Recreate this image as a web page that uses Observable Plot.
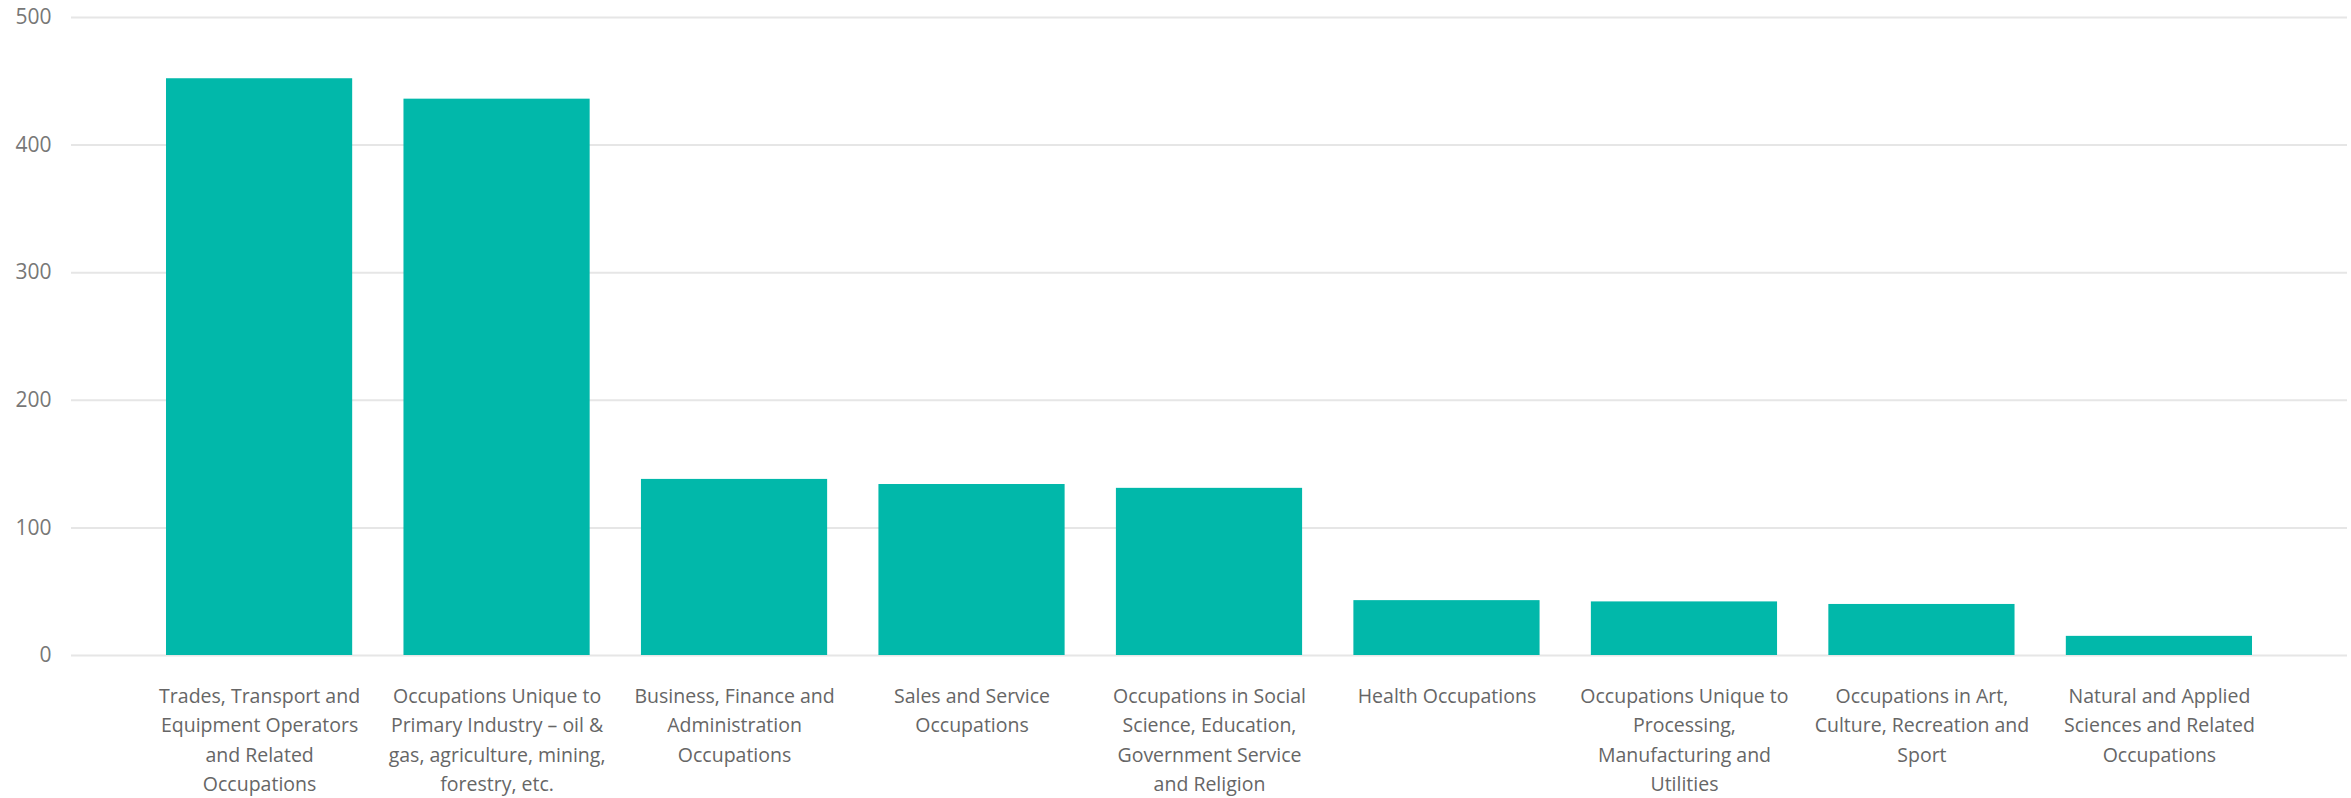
<!DOCTYPE html>
<html>
<head>
<meta charset="utf-8">
<script src="https://cdn.jsdelivr.net/npm/d3@7"></script>
<script src="https://cdn.jsdelivr.net/npm/@observablehq/plot@0.6"></script>
<style>
  html, body { margin: 0; padding: 0; background: #fff; }
  svg { display: block; }
</style>
</head>
<body>
<div id="chart"></div>
<script>
const categories = [
  "Trades, Transport and Equipment Operators and Related Occupations",
  "Occupations Unique to Primary Industry – oil & gas, agriculture, mining, forestry, etc.",
  "Business, Finance and Administration Occupations",
  "Sales and Service Occupations",
  "Occupations in Social Science, Education, Government Service and Religion",
  "Health Occupations",
  "Occupations Unique to Processing, Manufacturing and Utilities",
  "Occupations in Art, Culture, Recreation and Sport",
  "Natural and Applied Sciences and Related Occupations"
];
const values = [452, 436, 138, 134, 131, 43, 42, 40, 15];
const tickLabels = [
  "Trades, Transport and\nEquipment Operators\nand Related\nOccupations",
  "Occupations Unique to\nPrimary Industry – oil &\ngas, agriculture, mining,\nforestry, etc.",
  "Business, Finance and\nAdministration\nOccupations",
  "Sales and Service\nOccupations",
  "Occupations in Social\nScience, Education,\nGovernment Service\nand Religion",
  "Health Occupations",
  "Occupations Unique to\nProcessing,\nManufacturing and\nUtilities",
  "Occupations in Art,\nCulture, Recreation and\nSport",
  "Natural and Applied\nSciences and Related\nOccupations"
];
const yTicks = [0, 100, 200, 300, 400, 500];

const data = categories.map((c, i) => ({category: c, value: values[i]}));
const labelOf = new Map(categories.map((c, i) => [c, tickLabels[i]]));

const chart = Plot.plot({
  width: 2351,
  height: 798,
  marginLeft: 71,
  marginRight: 4,
  marginTop: 17,
  marginBottom: 143,
  style: {fontFamily: "'Open Sans', sans-serif", background: "#fff"},
  x: {domain: categories, paddingInner: 0.216, paddingOuter: 0.4, round: false},
  y: {domain: [0, 500]},
  marks: [
    Plot.gridY(yTicks, {stroke: "#e6e6e6", strokeOpacity: 1, strokeWidth: 2}),
    Plot.barY(data, {x: "category", y: "value", fill: "#01B8AA"}),
    Plot.axisY(yTicks, {tickSize: 0, tickPadding: 20, fontSize: 21, fill: "#777", label: null}),
    Plot.axisX({tickSize: 0, tickPadding: 26, fontSize: 19.5, lineHeight: 1.52, fill: "#666", label: null,
      tickFormat: d => labelOf.get(d)})
  ]
});
document.getElementById("chart").appendChild(chart);
</script>
</body>
</html>
